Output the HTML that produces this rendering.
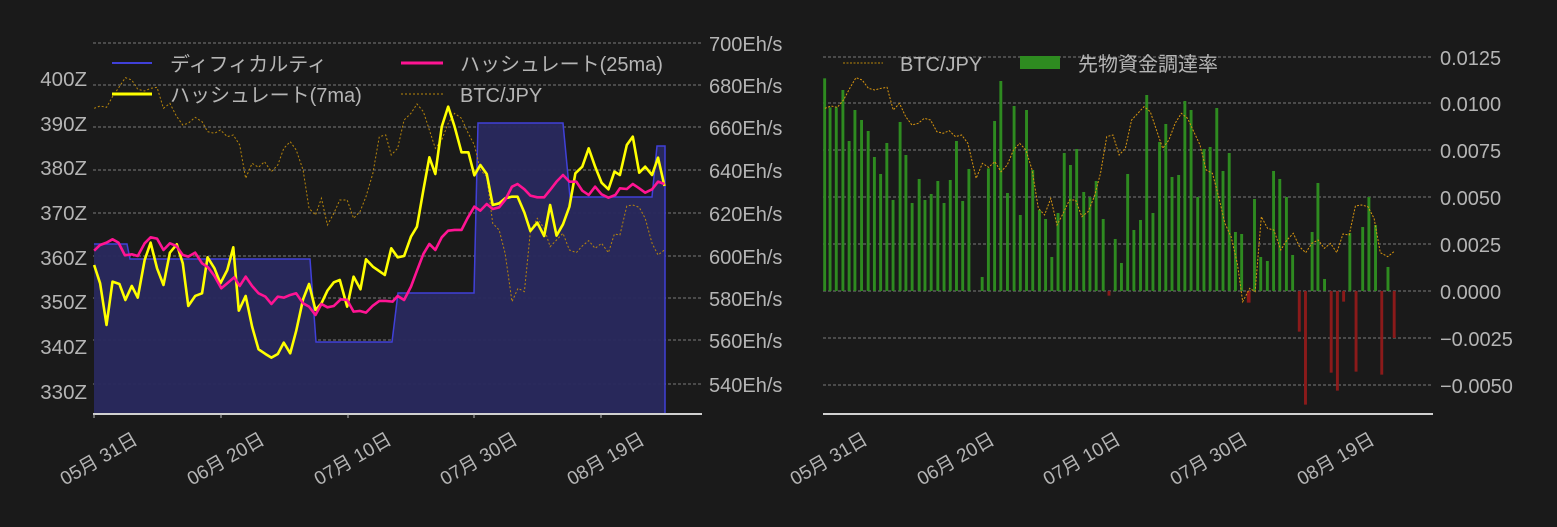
<!DOCTYPE html>
<html><head><meta charset="utf-8"><style>
html,body{margin:0;padding:0;background:#1a1a1a;}
svg{display:block;}
text{font-family:"Liberation Sans","Noto Sans CJK JP",sans-serif;fill:#b5b5b5;}
</style></head><body>
<svg width="1557" height="527" viewBox="0 0 1557 527" xmlns="http://www.w3.org/2000/svg">
<rect width="1557" height="527" fill="#1a1a1a"/>
<!-- LEFT CHART -->
<g stroke="#bbb" stroke-width="0.8" stroke-dasharray="3,2" opacity="0.8">
<line x1="93" x2="702" y1="43" y2="43"/><line x1="93" x2="702" y1="85" y2="85"/><line x1="93" x2="702" y1="127" y2="127"/><line x1="93" x2="702" y1="170" y2="170"/><line x1="93" x2="702" y1="213" y2="213"/><line x1="93" x2="702" y1="256" y2="256"/><line x1="93" x2="702" y1="298" y2="298"/><line x1="93" x2="702" y1="340" y2="340"/><line x1="93" x2="702" y1="384" y2="384"/>
</g>
<path d="M94,414 L94,244 L127,244 L130,259 L310,259 L316,342 L392,342 L398,293 L474,293 L478,123 L563,123 L570,197 L652,197 L657,146 L665,146 L665,414 Z" fill="#29295e" fill-opacity="0.95"/>
<path d="M94,244 L127,244 L130,259 L310,259 L316,342 L392,342 L398,293 L474,293 L478,123 L563,123 L570,197 L652,197 L657,146 L665,146 L665,414" fill="none" stroke="#4040d8" stroke-width="1.5"/>
<g transform="translate(0,30) scale(0.4592,0.3333)">
<polyline fill="none" stroke="#b8860b" stroke-width="1" stroke-dasharray="2,2" vector-effect="non-scaling-stroke" points="205,235 218,228 232,232 245,200 260,170 273,143 287,150 300,178 315,183 328,175 342,172 356,235 370,220 384,258 398,285 410,280 425,262 440,275 452,305 467,310 480,300 495,320 508,315 522,345 535,445 549,400 563,412 576,395 591,425 605,405 618,355 632,335 645,360 660,420 673,535 687,555 700,505 713,585 727,550 740,510 756,510 770,565 784,545 797,500 812,430 826,320 840,315 852,375 866,355 880,270 895,250 908,222 922,245 935,300 948,355 962,330 976,280 990,250 1005,265 1018,305 1033,345 1046,420 1060,440 1073,580 1087,600 1100,670 1115,815 1128,775 1142,785 1155,605 1170,565 1185,595 1198,650 1212,630 1226,610 1240,660 1255,668 1268,648 1282,632 1296,655 1310,640 1325,668 1338,612 1350,615 1365,528 1378,525 1392,532 1405,565 1420,640 1433,675 1447,660"/>
<polyline fill="none" stroke="#ffff00" stroke-width="2.6" stroke-linejoin="round" vector-effect="non-scaling-stroke" points="205,705 218,760 232,885 245,755 260,762 273,810 287,768 300,803 315,690 328,638 342,715 356,765 370,668 385,643 398,700 410,828 425,798 440,790 452,682 467,715 480,760 495,720 508,652 520,842 535,798 549,890 563,958 578,972 591,983 605,972 618,938 632,970 645,903 660,808 673,762 687,840 700,820 713,782 727,757 740,750 756,830 770,740 785,778 797,688 812,710 838,735 852,655 866,682 880,678 895,620 908,590 922,480 935,382 948,432 962,290 976,230 990,290 1005,367 1020,367 1033,436 1046,405 1060,432 1073,525 1087,520 1100,505 1115,500 1127,500 1142,548 1155,603 1170,578 1185,618 1198,525 1212,617 1226,583 1240,530 1253,430 1268,410 1282,355 1296,410 1310,458 1325,478 1338,425 1350,435 1365,345 1378,320 1392,428 1405,410 1420,435 1433,383 1447,468"/>
<polyline fill="none" stroke="#ff1493" stroke-width="2.6" stroke-linejoin="round" vector-effect="non-scaling-stroke" points="205,662 218,645 232,638 245,628 258,638 272,676 287,673 300,678 315,640 328,622 342,626 356,660 370,640 384,648 398,675 410,680 425,668 440,700 453,712 467,738 482,775 495,760 510,742 522,768 535,740 549,768 563,790 578,800 591,822 605,800 618,803 632,795 645,790 660,820 673,830 687,855 700,822 713,832 727,828 742,808 756,810 770,845 784,843 797,848 812,827 826,813 840,813 855,815 866,798 880,810 895,770 908,722 922,672 935,642 948,660 962,622 976,602 990,600 1005,600 1018,565 1033,530 1046,542 1060,522 1073,537 1087,532 1100,510 1115,470 1127,462 1142,478 1155,497 1170,502 1185,502 1198,480 1212,455 1226,435 1240,455 1255,455 1268,482 1282,495 1296,470 1310,493 1325,503 1340,495 1350,475 1365,477 1378,462 1392,475 1405,488 1420,478 1433,455 1447,462"/>
</g>
<line x1="93" x2="702" y1="414" y2="414" stroke="#d0d0d0" stroke-width="2"/>
<g stroke="#bbb" stroke-width="1"><line x1="94" x2="94" y1="414" y2="418"/><line x1="221" x2="221" y1="414" y2="418"/><line x1="348" x2="348" y1="414" y2="418"/><line x1="474" x2="474" y1="414" y2="418"/><line x1="601" x2="601" y1="414" y2="418"/></g>
<g font-size="20.5" text-anchor="end">
<text x="87" y="86">400Z</text><text x="87" y="131">390Z</text><text x="87" y="175">380Z</text><text x="87" y="220">370Z</text><text x="87" y="265">360Z</text><text x="87" y="309">350Z</text><text x="87" y="354">340Z</text><text x="87" y="399">330Z</text>
</g>
<g font-size="20">
<text x="709" y="51">700Eh/s</text><text x="709" y="93">680Eh/s</text><text x="709" y="135">660Eh/s</text><text x="709" y="178">640Eh/s</text><text x="709" y="221">620Eh/s</text><text x="709" y="264">600Eh/s</text><text x="709" y="306">580Eh/s</text><text x="709" y="348">560Eh/s</text><text x="709" y="392">540Eh/s</text>
</g>
<g font-size="19" text-anchor="end">
<text transform="translate(139,443) rotate(-30)">05月 31日</text>
<text transform="translate(266,443) rotate(-30)">06月 20日</text>
<text transform="translate(393,443) rotate(-30)">07月 10日</text>
<text transform="translate(519,443) rotate(-30)">07月 30日</text>
<text transform="translate(646,443) rotate(-30)">08月 19日</text>
</g>
<!-- left legend -->
<line x1="112" x2="152" y1="63" y2="63" stroke="#4040d8" stroke-width="2"/>
<text x="170" y="71" font-size="20">ディフィカルティ</text>
<line x1="401" x2="443" y1="63" y2="63" stroke="#ff1493" stroke-width="3"/>
<text x="460" y="71" font-size="20">ハッシュレート(25ma)</text>
<line x1="112" x2="152" y1="94" y2="94" stroke="#ffff00" stroke-width="3"/>
<text x="170" y="102" font-size="20">ハッシュレート(7ma)</text>
<line x1="401" x2="443" y1="94" y2="94" stroke="#b8860b" stroke-width="1" stroke-dasharray="2,2"/>
<text x="460" y="102" font-size="20">BTC/JPY</text>

<!-- RIGHT CHART -->
<g stroke="#bbb" stroke-width="0.8" stroke-dasharray="3,2" opacity="0.8">
<line x1="823" x2="1433" y1="57" y2="57"/><line x1="823" x2="1433" y1="103" y2="103"/><line x1="823" x2="1433" y1="150" y2="150"/><line x1="823" x2="1433" y1="197" y2="197"/><line x1="823" x2="1433" y1="244" y2="244"/><line x1="823" x2="1433" y1="291" y2="291"/><line x1="823" x2="1433" y1="338" y2="338"/><line x1="823" x2="1433" y1="385" y2="385"/>
</g>
<g transform="translate(800,30) scale(0.4145,0.3333)">
<g fill="#2e8b20">
<rect x="56" y="145" width="7" height="638"/><rect x="69" y="232" width="7" height="551"/><rect x="84" y="232" width="7" height="551"/><rect x="100" y="180" width="7" height="603"/><rect x="115" y="333" width="7" height="450"/><rect x="129" y="240" width="7" height="543"/><rect x="145" y="270" width="7" height="513"/><rect x="161" y="303" width="7" height="480"/><rect x="176" y="381" width="7" height="402"/><rect x="191" y="432" width="7" height="351"/><rect x="206" y="339" width="7" height="444"/><rect x="221" y="510" width="7" height="273"/><rect x="238" y="276" width="7" height="507"/><rect x="252" y="375" width="7" height="408"/><rect x="267" y="519" width="7" height="264"/><rect x="284" y="447" width="7" height="336"/><rect x="298" y="510" width="7" height="273"/><rect x="313" y="492" width="7" height="291"/><rect x="329" y="453" width="7" height="330"/><rect x="344" y="519" width="7" height="264"/><rect x="359" y="450" width="7" height="333"/><rect x="374" y="333" width="7" height="450"/><rect x="389" y="513" width="7" height="270"/><rect x="404" y="417" width="7" height="366"/><rect x="436" y="741" width="7" height="42"/><rect x="451" y="415" width="7" height="368"/><rect x="466" y="273" width="7" height="510"/><rect x="481" y="153" width="7" height="630"/><rect x="497" y="489" width="7" height="294"/><rect x="513" y="228" width="7" height="555"/><rect x="528" y="555" width="7" height="228"/><rect x="543" y="240" width="7" height="543"/><rect x="558" y="420" width="7" height="363"/><rect x="574" y="540" width="7" height="243"/><rect x="589" y="567" width="7" height="216"/><rect x="604" y="681" width="7" height="102"/><rect x="619" y="549" width="7" height="234"/><rect x="634" y="369" width="7" height="414"/><rect x="649" y="405" width="7" height="378"/><rect x="664" y="357" width="7" height="426"/><rect x="681" y="486" width="7" height="297"/><rect x="696" y="501" width="7" height="282"/><rect x="711" y="453" width="7" height="330"/><rect x="728" y="567" width="7" height="216"/><rect x="757" y="627" width="7" height="156"/><rect x="772" y="699" width="7" height="84"/><rect x="787" y="432" width="7" height="351"/><rect x="802" y="600" width="7" height="183"/><rect x="818" y="570" width="7" height="213"/><rect x="833" y="195" width="7" height="588"/><rect x="848" y="549" width="7" height="234"/><rect x="864" y="336" width="7" height="447"/><rect x="879" y="282" width="7" height="501"/><rect x="894" y="441" width="7" height="342"/><rect x="910" y="435" width="7" height="348"/><rect x="925" y="213" width="7" height="570"/><rect x="940" y="240" width="7" height="543"/><rect x="956" y="501" width="7" height="282"/><rect x="971" y="357" width="7" height="426"/><rect x="986" y="351" width="7" height="432"/><rect x="1002" y="234" width="7" height="549"/><rect x="1017" y="423" width="7" height="360"/><rect x="1032" y="369" width="7" height="414"/><rect x="1047" y="606" width="7" height="177"/><rect x="1062" y="612" width="7" height="171"/><rect x="1093" y="507" width="7" height="276"/><rect x="1108" y="681" width="7" height="102"/><rect x="1124" y="693" width="7" height="90"/><rect x="1139" y="423" width="7" height="360"/><rect x="1154" y="447" width="7" height="336"/><rect x="1170" y="501" width="7" height="282"/><rect x="1185" y="675" width="7" height="108"/><rect x="1232" y="606" width="7" height="177"/><rect x="1246" y="459" width="7" height="324"/><rect x="1262" y="747" width="7" height="36"/><rect x="1323" y="609" width="7" height="174"/><rect x="1354" y="591" width="7" height="192"/><rect x="1369" y="501" width="7" height="282"/><rect x="1385" y="585" width="7" height="198"/><rect x="1415" y="711" width="7" height="72"/>
</g>
<g fill="#8b1a1a">
<rect x="742" y="783" width="7" height="14"/><rect x="1078" y="783" width="9" height="35"/><rect x="1201" y="783" width="7" height="122"/><rect x="1216" y="783" width="7" height="341"/><rect x="1278" y="783" width="7" height="245"/><rect x="1293" y="783" width="7" height="299"/><rect x="1308" y="783" width="7" height="32"/><rect x="1338" y="783" width="7" height="242"/><rect x="1400" y="783" width="7" height="251"/><rect x="1430" y="783" width="7" height="141"/>
</g>
<polyline fill="none" stroke="#d9960f" stroke-width="1" stroke-dasharray="2,1.5" vector-effect="non-scaling-stroke" points="60,235 75,228 90,232 105,210 120,175 135,143 150,150 165,175 180,180 195,175 210,172 225,240 240,220 255,260 270,285 285,280 300,265 315,270 330,305 345,310 360,302 375,320 390,315 405,340 425,445 440,400 455,412 470,395 485,425 500,405 515,360 530,340 545,360 560,420 575,535 590,555 605,505 620,585 635,550 650,510 665,510 680,560 695,545 710,500 725,430 740,320 755,315 770,375 785,355 800,270 815,250 830,230 845,245 860,300 875,355 890,330 905,280 920,250 935,265 950,305 965,345 980,420 995,430 1010,500 1025,580 1040,620 1055,700 1068,815 1085,775 1098,785 1113,560 1128,595 1143,600 1160,660 1175,630 1190,610 1205,650 1220,668 1235,640 1250,630 1265,655 1280,640 1295,668 1310,612 1325,615 1340,528 1355,525 1370,530 1385,565 1400,668 1418,680 1433,665"/>
</g>
<line x1="823" x2="1433" y1="414" y2="414" stroke="#d0d0d0" stroke-width="2"/>
<g font-size="20">
<text x="1440" y="65">0.0125</text><text x="1440" y="111">0.0100</text><text x="1440" y="158">0.0075</text><text x="1440" y="205">0.0050</text><text x="1440" y="252">0.0025</text><text x="1440" y="299">0.0000</text><text x="1440" y="346">−0.0025</text><text x="1440" y="393">−0.0050</text>
</g>
<g font-size="19" text-anchor="end">
<text transform="translate(869,443) rotate(-30)">05月 31日</text>
<text transform="translate(996,443) rotate(-30)">06月 20日</text>
<text transform="translate(1122,443) rotate(-30)">07月 10日</text>
<text transform="translate(1249,443) rotate(-30)">07月 30日</text>
<text transform="translate(1376,443) rotate(-30)">08月 19日</text>
</g>
<line x1="843" x2="883" y1="63" y2="63" stroke="#b8860b" stroke-width="1" stroke-dasharray="2,1.5"/>
<text x="900" y="71" font-size="20">BTC/JPY</text>
<rect x="1020" y="56" width="40" height="13" fill="#2e8b20"/>
<text x="1078" y="71" font-size="20">先物資金調達率</text>
</svg>
</body></html>
